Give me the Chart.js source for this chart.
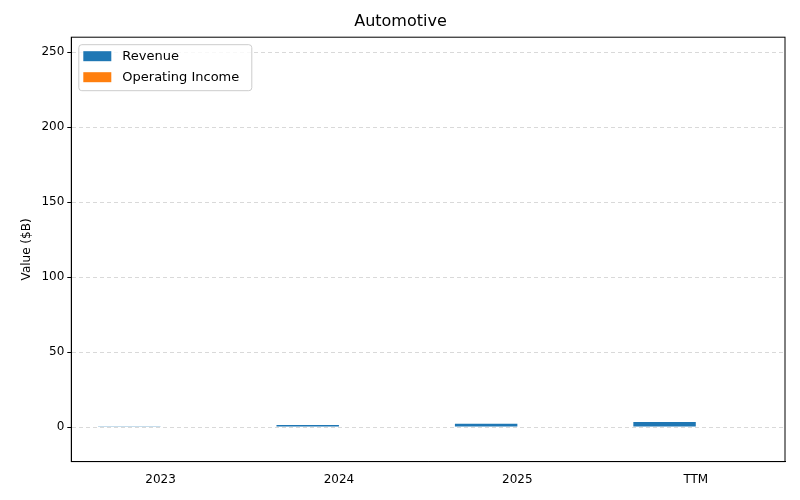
<!DOCTYPE html>
<html><head><meta charset="utf-8">
<script src="https://cdn.jsdelivr.net/npm/chart.js@4"></script>
<style>body{margin:0;background:#fff}#wrap{width:800px;height:500px}</style>
</head><body><div id="wrap"><canvas id="c"></canvas></div>
<script>
const categories = ['2023', '2024', '2025', 'TTM'];
const revenue = [0.6, 1.4, 2.2, 3.4];
const operatingIncome = [0, 0, 0, 0];
const yTicks = [0, 50, 100, 150, 200, 250];

// legend drawn inside the plot, top-left
const innerLegend = {
    id: 'innerLegend',
    afterDraw(chart) {
        const ctx = chart.ctx, a = chart.chartArea;
        const x = a.left + 7, y = a.top + 7;
        ctx.save();
        ctx.fillStyle = 'rgba(255,255,255,0.8)';
        ctx.strokeStyle = '#ccc';
        ctx.lineWidth = 1;
        ctx.beginPath();
        ctx.roundRect(x + 0.5, y + 0.5, 173, 46, 3);
        ctx.fill(); ctx.stroke();
        ctx.font = '13px "DejaVu Sans"';
        ctx.textBaseline = 'middle';
        chart.data.datasets.forEach((ds, i) => {
            const yy = y + 12 + i * 21;
            ctx.fillStyle = ds.backgroundColor;
            ctx.fillRect(x + 5, yy - 5, 28, 10);
            ctx.fillStyle = '#000';
            ctx.fillText(ds.label, x + 44, yy);
        });
        ctx.restore();
    }
};

new Chart(document.getElementById('c'), {
    type: 'bar',
    data: {
        labels: categories,
        datasets: [
            { label: 'Revenue', data: revenue, backgroundColor: '#1f77b4', categoryPercentage: 0.7, barPercentage: 1 },
            { label: 'Operating Income', data: operatingIncome, backgroundColor: '#ff7f0e', categoryPercentage: 0.7, barPercentage: 1 }
        ]
    },
    options: {
        responsive: true,
        maintainAspectRatio: false,
        animation: false,
        layout: { padding: { left: 16, right: 15, top: 0, bottom: 10 } },
        plugins: {
            legend: { display: false },
            tooltip: { enabled: false },
            title: { display: true, text: 'Automotive', color: '#000', font: { family: 'DejaVu Sans', size: 16, weight: 'normal' }, padding: { top: 12, bottom: 6 } }
        },
        scales: {
            x: {
                grid: { display: false, drawTicks: true },
                border: { color: '#000' },
                ticks: { color: '#000', font: { family: 'DejaVu Sans', size: 12 } }
            },
            y: {
                min: -23, max: 260,
                afterBuildTicks(axis) { axis.ticks = yTicks.map(v => ({ value: v })); },
                grid: { color: '#d9d9d9', tickColor: '#000', tickLength: 4 },
                border: { color: '#000', dash: [4, 3] },
                ticks: { color: '#000', font: { family: 'DejaVu Sans', size: 12 } },
                title: { display: true, text: 'Value ($B)', color: '#000', font: { family: 'DejaVu Sans', size: 12 } }
            }
        }
    },
    plugins: [innerLegend, {
        id: 'frame',
        beforeDatasetsDraw(chart) {
            const ctx = chart.ctx, a = chart.chartArea;
            ctx.save();
            ctx.strokeStyle = '#000'; ctx.lineWidth = 1;
            ctx.strokeRect(a.left, a.top, a.right - a.left, a.bottom - a.top);
            ctx.restore();
        }
    }]
});
</script></body></html>
